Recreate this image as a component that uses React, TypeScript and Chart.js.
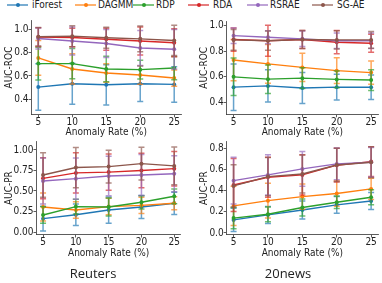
import React, { useEffect, useRef } from "react";
import Chart from "chart.js/auto";

// ---------- data ----------
const rates = [5, 10, 15, 20, 25];
const methods = ["iForest", "DAGMM", "RDP", "RDA", "RSRAE", "SG-AE"];
const colors = ["#1f77b4", "#ff7f0e", "#2ca02c", "#d62728", "#9467bd", "#8c564b"];

// Reuters AUC-ROC
const reutersRocMean = [
  [0.504, 0.533, 0.524, 0.533, 0.527],
  [0.755, 0.66, 0.625, 0.608, 0.582],
  [0.706, 0.706, 0.66, 0.654, 0.668],
  [0.934, 0.93, 0.916, 0.9, 0.885],
  [0.922, 0.9, 0.879, 0.84, 0.83],
  [0.937, 0.942, 0.928, 0.919, 0.905],
];
const reutersRocErr = [
  [0.2, 0.176, 0.173, 0.153, 0.153],
  [0.15, 0.13, 0.08, 0.08, 0.07],
  [0.14, 0.13, 0.11, 0.08, 0.1],
  [0.08, 0.08, 0.095, 0.12, 0.12],
  [0.09, 0.12, 0.12, 0.15, 0.17],
  [0.08, 0.09, 0.09, 0.11, 0.13],
];
// 20news AUC-ROC
const newsRocMean = [
  [0.52, 0.53, 0.514, 0.52, 0.52],
  [0.73, 0.7, 0.673, 0.648, 0.633],
  [0.6, 0.582, 0.59, 0.58, 0.575],
  [0.889, 0.88, 0.889, 0.868, 0.86],
  [0.919, 0.906, 0.894, 0.88, 0.88],
  [0.886, 0.88, 0.889, 0.886, 0.886],
];
const newsRocErr = [
  [0.18, 0.125, 0.12, 0.1, 0.095],
  [0.16, 0.15, 0.11, 0.1, 0.09],
  [0.145, 0.11, 0.08, 0.065, 0.08],
  [0.09, 0.12, 0.07, 0.09, 0.07],
  [0.06, 0.05, 0.06, 0.06, 0.06],
  [0.08, 0.075, 0.07, 0.07, 0.065],
];
// Reuters AUC-PR
const reutersPrMean = [
  [0.163, 0.21, 0.268, 0.305, 0.35],
  [0.305, 0.268, 0.31, 0.325, 0.35],
  [0.207, 0.31, 0.305, 0.362, 0.435],
  [0.654, 0.72, 0.73, 0.75, 0.772],
  [0.622, 0.65, 0.683, 0.695, 0.71],
  [0.695, 0.785, 0.797, 0.833, 0.805],
];
const reutersPrErr = [
  [0.15, 0.13, 0.16, 0.14, 0.135],
  [0.17, 0.1, 0.1, 0.1, 0.08],
  [0.1, 0.09, 0.11, 0.08, 0.09],
  [0.25, 0.245, 0.22, 0.21, 0.21],
  [0.28, 0.25, 0.24, 0.25, 0.22],
  [0.27, 0.245, 0.2, 0.2, 0.23],
];
// 20news AUC-PR
const newsPrMean = [
  [0.123, 0.17, 0.217, 0.265, 0.302],
  [0.255, 0.305, 0.343, 0.372, 0.416],
  [0.14, 0.176, 0.24, 0.29, 0.337],
  [0.453, 0.526, 0.548, 0.64, 0.674],
  [0.494, 0.548, 0.605, 0.652, 0.668],
  [0.444, 0.532, 0.557, 0.642, 0.668],
];
const newsPrErr = [
  [0.11, 0.08, 0.085, 0.08, 0.08],
  [0.185, 0.165, 0.12, 0.12, 0.1],
  [0.1, 0.07, 0.08, 0.06, 0.07],
  [0.25, 0.19, 0.19, 0.16, 0.14],
  [0.22, 0.19, 0.165, 0.15, 0.14],
  [0.2, 0.18, 0.18, 0.157, 0.146],
];

const rocTicks = [0.4, 0.6, 0.8, 1.0];
const reutersPrTicks = [0, 0.25, 0.5, 0.75, 1.0];
const newsPrTicks = [0, 0.2, 0.4, 0.6, 0.8];
const xTitle = "Anomaly Rate (%)";
const datasetNames = ["Reuters", "20news"];

// ---------- styling ----------
const FONT = "'DejaVu Sans Condensed', 'DejaVu Sans', sans-serif";
const TEXT = "#222";
const AXIS = "#333";

function hexA(hex: string, a: number) {
  const n = parseInt(hex.slice(1), 16);
  return `rgba(${(n >> 16) & 255},${(n >> 8) & 255},${n & 255},${a})`;
}

const errorBarPlugin = {
  id: "errorBars",
  beforeDatasetDraw(chart: any, args: any) {
    const ds = chart.data.datasets[args.index];
    const errs: number[] | undefined = ds.errors;
    if (!errs) return;
    const ys = chart.scales.y;
    const ctx = chart.ctx;
    const cap = 3;
    ctx.save();
    ctx.strokeStyle = ds.errColor;
    ctx.lineWidth = 1.5;
    args.meta.data.forEach((pt: any, j: number) => {
      const v = ds.data[j].y;
      const e = errs[j];
      const x = pt.x;
      const yT = ys.getPixelForValue(v + e);
      const yB = ys.getPixelForValue(v - e);
      ctx.beginPath();
      ctx.moveTo(x, yT);
      ctx.lineTo(x, yB);
      ctx.moveTo(x - cap, yT);
      ctx.lineTo(x + cap, yT);
      ctx.moveTo(x - cap, yB);
      ctx.lineTo(x + cap, yB);
      ctx.stroke();
    });
    ctx.restore();
  },
};

type Spec = {
  x: number;
  y: number;
  w: number;
  h: number;
  left: number;
  top: number;
  right: number;
  bottom: number;
  yMin: number;
  yMax: number;
  yTicks: number[];
  decimals: number;
  yTitle: string;
  yTitleCenter: number;
  means: number[][];
  errs: number[][];
};

function Panel({ s }: { s: Spec }) {
  const ref = useRef<HTMLCanvasElement>(null);
  useEffect(() => {
    const padTop = s.top - s.y;
    const padRight = s.x + s.w - s.right;
    const yWidth = s.left - s.x;
    const xHeight = s.y + s.h - s.bottom;
    const tickFont = { family: FONT, size: 10, lineHeight: 1.0 };
    const titleFont = { family: FONT, size: 10, lineHeight: 1.2 };
    const chart = new Chart(ref.current as HTMLCanvasElement, {
      type: "line",
      data: {
        datasets: methods.map((m, i) => ({
          label: m,
          data: rates.map((r, j) => ({ x: r, y: s.means[i][j] })),
          errors: s.errs[i],
          errColor: hexA(colors[i], 0.68),
          borderColor: colors[i],
          backgroundColor: colors[i],
          borderWidth: 1.4,
          pointRadius: 2,
          pointBorderWidth: 0,
          pointBackgroundColor: colors[i],
          tension: 0,
          order: methods.length - 1 - i,
        })) as any,
      },
      options: {
        animation: false,
        responsive: false,
        maintainAspectRatio: false,
        devicePixelRatio: 1,
        events: [],
        layout: { padding: { top: padTop, right: padRight, left: 0, bottom: 0 } },
        plugins: { legend: { display: false }, tooltip: { enabled: false } },
        scales: {
          x: {
            type: "linear",
            min: 4,
            max: 26,
            afterBuildTicks: (sc: any) => {
              sc.ticks = rates.map((v) => ({ value: v }));
            },
            afterFit: (sc: any) => {
              sc.height = xHeight;
            },
            grid: { drawOnChartArea: false, drawTicks: true, tickLength: 3, color: AXIS, lineWidth: 0.8 },
            border: { display: true, color: AXIS, width: 0.8 },
            ticks: {
              font: tickFont,
              color: TEXT,
              padding: 0,
              maxRotation: 0,
              autoSkip: false,
              callback: (v: any) => String(v),
            },
            title: { display: true, text: xTitle, font: titleFont, color: TEXT, padding: 0 },
          },
          y: {
            type: "linear",
            min: s.yMin,
            max: s.yMax,
            afterBuildTicks: (sc: any) => {
              sc.ticks = s.yTicks.map((v) => ({ value: v }));
            },
            afterFit: (sc: any) => {
              sc.width = yWidth;
            },
            grid: { drawOnChartArea: false, drawTicks: true, tickLength: 3, color: AXIS, lineWidth: 0.8 },
            border: { display: true, color: AXIS, width: 0.8 },
            ticks: {
              font: tickFont,
              color: TEXT,
              padding: 0,
              autoSkip: false,
              callback: (v: any) => Number(v).toFixed(s.decimals),
            },
            title: {
              display: true,
              text: s.yTitle,
              font: titleFont,
              color: TEXT,
              padding: { top: s.yTitleCenter - s.x - 6, bottom: 0 },
            },
          },
        },
      } as any,
      plugins: [errorBarPlugin],
    });
    return () => chart.destroy();
  }, []);
  return (
    <canvas
      ref={ref}
      width={s.w}
      height={s.h}
      style={{ position: "absolute", left: s.x, top: s.y, width: s.w, height: s.h }}
    />
  );
}

const panels: Spec[] = [
  {
    x: 0, y: 14, w: 185, h: 124,
    left: 31.5, top: 20.7, right: 181, bottom: 114.3,
    yMin: 0.27, yMax: 1.075, yTicks: rocTicks, decimals: 1,
    yTitle: "AUC-ROC", yTitleCenter: 9.2,
    means: reutersRocMean, errs: reutersRocErr,
  },
  {
    x: 191, y: 14, w: 191, h: 124,
    left: 226.7, top: 21.3, right: 378, bottom: 114.3,
    yMin: 0.31, yMax: 1.03, yTicks: rocTicks, decimals: 1,
    yTitle: "AUC-ROC", yTitleCenter: 204.3,
    means: newsRocMean, errs: newsRocErr,
  },
  {
    x: 0, y: 136, w: 185, h: 123,
    left: 36.5, top: 141.7, right: 180.8, bottom: 234.5,
    yMin: -0.03, yMax: 1.1, yTicks: reutersPrTicks, decimals: 2,
    yTitle: "AUC-PR", yTitleCenter: 9.2,
    means: reutersPrMean, errs: reutersPrErr,
  },
  {
    x: 191, y: 136, w: 191, h: 123,
    left: 226.7, top: 141.7, right: 378, bottom: 234.5,
    yMin: -0.015, yMax: 0.862, yTicks: newsPrTicks, decimals: 1,
    yTitle: "AUC-PR", yTitleCenter: 204.3,
    means: newsPrMean, errs: newsPrErr,
  },
];

const legendLineX = [7, 75, 133, 188, 247, 312];
const legendTextX = [32, 98, 156, 213, 270, 337];
const nameCenterX = [93, 288];

export default function App() {
  return (
    <div
      style={{
        position: "fixed",
        left: 0,
        top: 0,
        width: 382,
        height: 283,
        background: "#fff",
        overflow: "hidden",
      }}
    >
      {methods.map((m, i) => (
        <React.Fragment key={m}>
          <div
            style={{
              position: "absolute",
              left: legendLineX[i],
              top: 4,
              width: 21,
              height: 2,
              background: hexA(colors[i], 0.6),
            }}
          />
          <div
            style={{
              position: "absolute",
              left: legendLineX[i] + 8.5,
              top: 3,
              width: 4,
              height: 4,
              borderRadius: 2,
              background: colors[i],
            }}
          />
          <div
            style={{
              position: "absolute",
              left: legendTextX[i],
              top: -1,
              fontFamily: FONT,
              fontSize: 10,
              lineHeight: "12px",
              color: TEXT,
              whiteSpace: "nowrap",
            }}
          >
            {m}
          </div>
        </React.Fragment>
      ))}
      {panels.map((p, i) => (
        <Panel key={i} s={p} />
      ))}
      {datasetNames.map((n, i) => (
        <div
          key={n}
          style={{
            position: "absolute",
            left: nameCenterX[i] - 50,
            width: 100,
            top: 264,
            textAlign: "center",
            fontFamily: "'Open Sans', sans-serif",
            fontSize: 13,
            lineHeight: "18px",
            color: TEXT,
          }}
        >
          {n}
        </div>
      ))}
    </div>
  );
}
